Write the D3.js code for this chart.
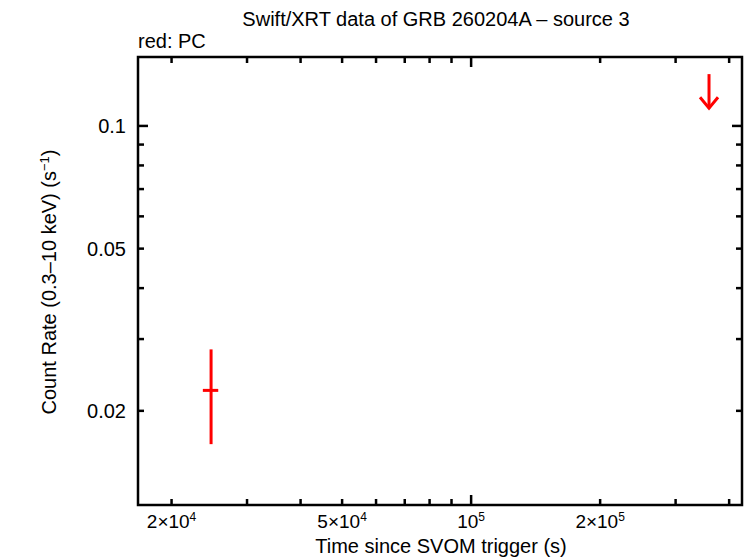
<!DOCTYPE html>
<html>
<head>
<meta charset="utf-8">
<script src="https://cdn.jsdelivr.net/npm/d3@7"></script>
<style>
  body { margin: 0; background: #fff; }
  text { font-family: "Liberation Sans", Arial, sans-serif; fill: #000; }
</style>
</head>
<body>
<div id="chart"></div>
<script>
var W = 746, H = 558;
var margin = {left: 138, right: 4, top: 57, bottom: 53};

// PC detection: time, time errors, rate, rate errors
var pcTime = [24730];
var pcTimeLo = [23660];
var pcTimeHi = [25700];
var pcRate = [0.02245];
var pcRateLo = [0.01657];
var pcRateHi = [0.0283];

// PC upper limit
var ulTime = [359000];
var ulRate = [0.134];
var ulTip = [0.1105];

var xDomain = [16700, 428600];
var yDomain = [0.01175, 0.1476];

var xMajor = [1e5];
var xMinor = [2e4, 3e4, 4e4, 5e4, 6e4, 7e4, 8e4, 9e4, 2e5, 3e5, 4e5];
var xLabels = [[2e4, "2×10", "4"], [5e4, "5×10", "4"], [1e5, "10", "5"], [2e5, "2×10", "5"]];
var yMajor = [0.1];
var yMinor = [0.02, 0.03, 0.04, 0.05, 0.06, 0.07, 0.08, 0.09];
var yLabels = [[0.1, "0.1"], [0.05, "0.05"], [0.02, "0.02"]];

var svg = d3.select("#chart").append("svg")
    .attr("width", W)
    .attr("height", H);

var x = d3.scaleLog().domain(xDomain).range([margin.left, W - margin.right]);
var y = d3.scaleLog().domain(yDomain).range([H - margin.bottom, margin.top]);

var x0 = margin.left, x1 = W - margin.right, y0 = H - margin.bottom, y1 = margin.top;

// ticks, mirrored on all four sides
var g = svg.append("g").attr("stroke", "#000").attr("stroke-width", 2.5);
function xt(list, len) {
  list.forEach(function(v) {
    g.append("line").attr("x1", x(v)).attr("x2", x(v)).attr("y1", y0).attr("y2", y0 - len);
    g.append("line").attr("x1", x(v)).attr("x2", x(v)).attr("y1", y1).attr("y2", y1 + len);
  });
}
function yt(list, len) {
  list.forEach(function(v) {
    g.append("line").attr("y1", y(v)).attr("y2", y(v)).attr("x1", x0).attr("x2", x0 + len);
    g.append("line").attr("y1", y(v)).attr("y2", y(v)).attr("x1", x1).attr("x2", x1 - len);
  });
}
xt(xMajor, 10); xt(xMinor, 6);
yt(yMajor, 10); yt(yMinor, 6);

// frame
svg.append("rect")
    .attr("x", x0).attr("y", y1)
    .attr("width", x1 - x0).attr("height", y0 - y1)
    .attr("fill", "none").attr("stroke", "#000").attr("stroke-width", 2.5);

// tick labels
var xl = svg.append("g").selectAll("text").data(xLabels).join("text")
    .attr("x", d => x(d[0]))
    .attr("y", 528)
    .attr("text-anchor", "middle")
    .style("font-size", "19px");
xl.append("tspan").text(d => d[1]);
xl.append("tspan").attr("dy", -7).style("font-size", "12px").text(d => d[2]);

svg.append("g").selectAll("text").data(yLabels).join("text")
    .attr("x", 126)
    .attr("y", d => y(d[0]) + 7)
    .attr("text-anchor", "end")
    .style("font-size", "20px")
    .text(d => d[1]);

// titles
svg.append("text").attr("x", 436).attr("y", 26).attr("text-anchor", "middle")
    .style("font-size", "20px").text("Swift/XRT data of GRB 260204A – source 3");
svg.append("text").attr("x", 138).attr("y", 48)
    .style("font-size", "20px").text("red: PC");
svg.append("text").attr("x", 441).attr("y", 553).attr("text-anchor", "middle")
    .style("font-size", "20px").text("Time since SVOM trigger (s)");

var yt2 = svg.append("text")
    .attr("transform", "translate(56," + 282 + ") rotate(-90)")
    .attr("text-anchor", "middle")
    .style("font-size", "20px");
yt2.append("tspan").text("Count Rate (0.3–10 keV) (s");
yt2.append("tspan").attr("dy", -7).style("font-size", "13px").text("−1");
yt2.append("tspan").attr("dy", 7).text(")");

// data: PC detection
var red = "#ff0000";
var pts = svg.append("g").attr("stroke", red).attr("stroke-width", 3);
pcTime.forEach(function(t, i) {
  pts.append("line").attr("x1", x(t)).attr("x2", x(t))
     .attr("y1", y(pcRateLo[i])).attr("y2", y(pcRateHi[i]));
  pts.append("line").attr("x1", x(pcTimeLo[i])).attr("x2", x(pcTimeHi[i]))
     .attr("y1", y(pcRate[i])).attr("y2", y(pcRate[i]));
});

// upper limit arrow
ulTime.forEach(function(t, i) {
  var tx = x(t), ty = y(ulTip[i]);
  pts.append("line").attr("x1", tx).attr("x2", tx).attr("y1", y(ulRate[i])).attr("y2", ty);
  pts.append("path").attr("fill", "none")
     .attr("d", "M" + (tx - 9) + "," + (ty - 11) + "L" + tx + "," + ty + "L" + (tx + 9) + "," + (ty - 11));
});
</script>
</body>
</html>
